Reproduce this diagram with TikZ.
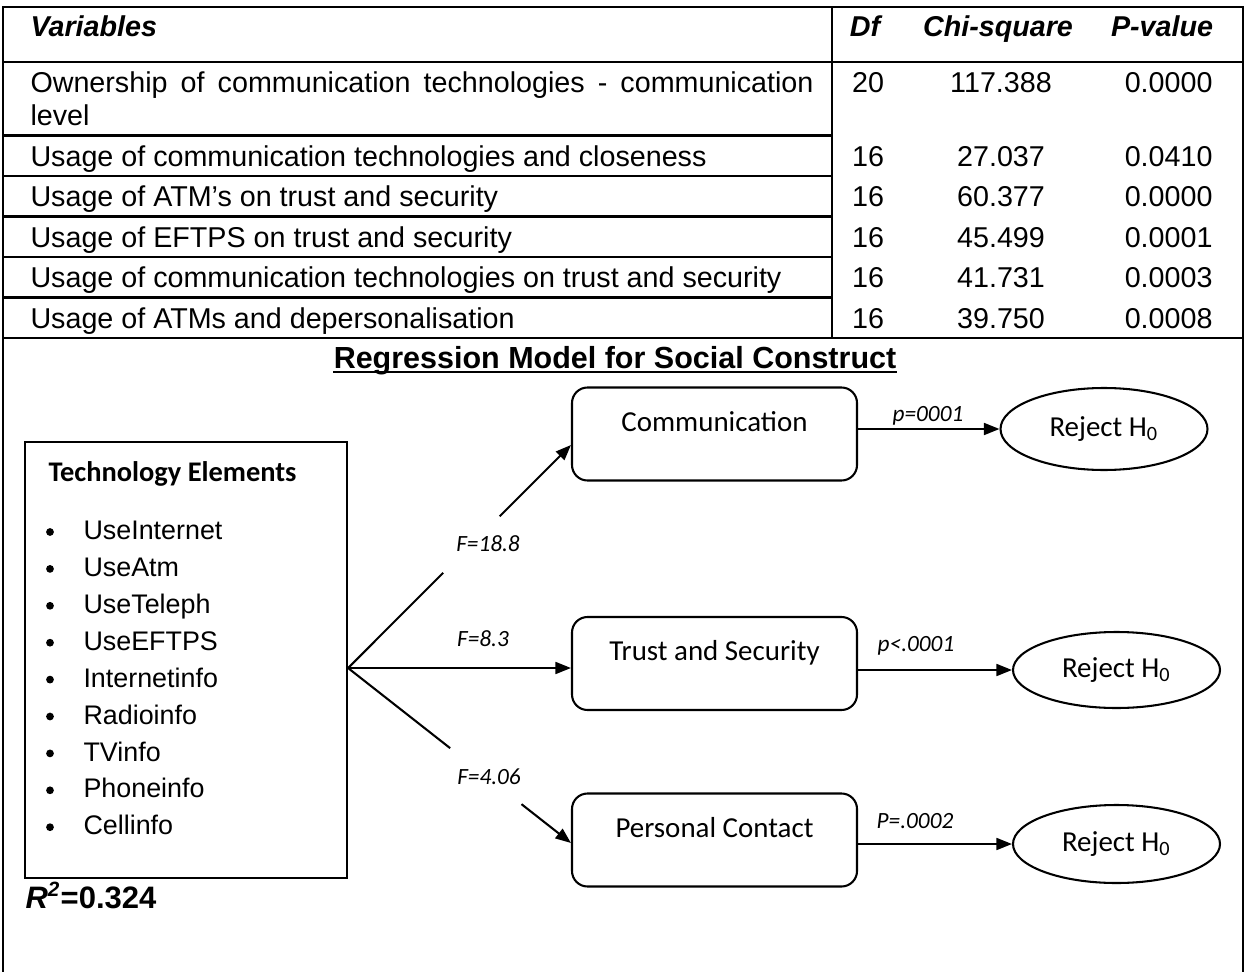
\documentclass[tikz,border=0pt]{standalone}
\usepackage{fontspec}
\setmainfont{Liberation Sans}
\newfontfamily\calib{Carlito}
\usetikzlibrary{arrows.meta,shapes.geometric,calc}
\def\pxu{0.387pt}
\begin{document}
\begin{tikzpicture}[x=0.387pt,y=-0.387pt,
  txt/.style={inner sep=0pt,text depth=0pt},
  tabtxt/.style={txt,text height=8pt,font=\fontsize{11.1}{13}\selectfont},
  hdr/.style={txt,text height=8pt,font=\fontsize{11.1}{13}\selectfont\bfseries\itshape},
  tabline/.style={line width=1pt},
  rbox/.style={draw,line width=0.8pt,rounded corners=6pt,minimum width={285*\pxu},minimum height={93*\pxu},inner sep=0pt,text height=8pt,text depth=10.1pt,font=\calib\fontsize{11.2}{13}\selectfont},
  ell/.style={draw,ellipse,line width=0.8pt,minimum width={207*\pxu},inner sep=0pt,font=\calib\fontsize{11.2}{13}\selectfont},
  lab/.style={txt,text height=6.5pt,font=\calib\itshape\fontsize{9}{11}\selectfont},
  arr/.style={line width=0.8pt,-{Triangle[length=6pt,width=4.6pt]}},
  conn/.style={line width=0.8pt},
  itm/.style={txt,anchor=west,text height=7.5pt,font=\fontsize{10.4}{12}\selectfont},
]
\useasboundingbox (0,0) rectangle (1246,972);
% table frame
\draw[tabline] (3,972) -- (3,7) -- (1243,7) -- (1243,972);
\draw[tabline] (3,62) -- (1243,62);
\draw[tabline] (3,338) -- (1243,338);
\draw[tabline] (832,7) -- (832,338);
\foreach \yy in {135.5,176,216.5,257,297.5} \draw[tabline] (3,\yy) -- (832,\yy);
% header
\node[hdr,anchor=west] (hv) at (30,26) {Variables};
\node[hdr] (hd) at (865,26) {Df};
\node[hdr] (hc) at (998,26) {Chi-square};
\node[hdr] (hp) at (1162,26) {P-value};
% row 1
\node[tabtxt,anchor=west] (r0a) at (30,82) {\makebox[303pt][s]{Ownership of communication technologies - communication}};
\node[tabtxt,anchor=west] (r0b) at (30,115) {level};
\node[tabtxt] (df0) at (868,82) {20};
\node[tabtxt] (cs0) at (1001,82) {117.388};
\node[tabtxt,anchor=east] (pv0) at (1213,82) {0.0000};
% other rows
\foreach \yy/\tt/\dd/\cc/\pp [count=\i] in {156/Usage of communication technologies and closeness/16/27.037/0.0410,196/Usage of ATM’s on trust and security/16/60.377/0.0000,237/Usage of EFTPS on trust and security/16/45.499/0.0001,277/Usage of communication technologies on trust and security/16/41.731/0.0003,318/Usage of ATMs and depersonalisation/16/39.750/0.0008}{
  \node[tabtxt,anchor=west] (r\i) at (30,\yy) {\tt};
  \node[tabtxt] (df\i) at (868,\yy) {\dd};
  \node[tabtxt] (cs\i) at (1001,\yy) {\cc};
  \node[tabtxt,anchor=east] (pv\i) at (1213,\yy) {\pp};
}
% title
\node[txt,text height=8.6pt,font=\fontsize{11.8}{14}\selectfont\bfseries] (title) at (615,357) {Regression Model for Social Construct};
\draw[line width=0.9pt] ([yshift=-1.3pt]title.south west) -- ([yshift=-1.3pt]title.south east);
% technology box
\node[draw,line width=0.8pt,minimum width={322*\pxu},minimum height={436*\pxu},inner sep=0pt] (tech) at (186,660) {};
\node[txt,anchor=west,text height=7.1pt,font=\calib\bfseries\fontsize{11}{13}\selectfont] (tt) at (48,472) {Technology Elements};
\foreach \t [count=\i from 0] in {UseInternet,UseAtm,UseTeleph,UseEFTPS,Internetinfo,Radioinfo,TVinfo,Phoneinfo,Cellinfo}{
  \node[circle,fill,inner sep=0pt,minimum size=3pt] (bu\i) at (50,{532+36.9*\i}) {};
  \node[itm] (it\i) at (83,{530+36.9*\i}) {\t};
}
\node[txt,anchor=west,text height=8.6pt,font=\fontsize{12}{14}\selectfont\bfseries] (r2) at (25,897) {\textit{R}\textsuperscript{\textit{2}}=0.324};
% construct boxes
\node[rbox] (comm) at (714.5,434) {Communication};
\node[rbox] (trust) at (714.5,663.5) {Trust and Security};
\node[rbox] (pers) at (714.5,840) {Personal Contact};
% ellipses
\node[ell,minimum height={82*\pxu}] (e1) at (1104,429) {Reject H\textsubscript{0}};
\node[ell,minimum height={76*\pxu}] (e2) at (1116.5,670) {Reject H\textsubscript{0}};
\node[ell,minimum height={78*\pxu}] (e3) at (1116.5,844) {Reject H\textsubscript{0}};
% right arrows
\draw[arr] (e1.west -| comm.east) -- (e1.west);
\draw[arr] (e2.west -| trust.east) -- (e2.west);
\draw[arr] (e3.west -| pers.east) -- (e3.west);
\node[lab] (l1) at (928,413) {p=0001};
\node[lab] (l2) at (916,643) {p<.0001};
\node[lab] (l3) at (915,820) {P=.0002};
% fan
\coordinate (fan) at (tech.east |- 0,668);
\coordinate (ct) at (comm.west |- 0,445);
\coordinate (cp) at (pers.west |- 0,843);
\draw[conn] (fan) -- ($(fan)!0.427!(ct)$);
\draw[arr] ($(fan)!0.68!(ct)$) -- (ct);
\draw[arr] (fan) -- (trust.west |- fan);
\draw[conn] (fan) -- ($(fan)!0.458!(cp)$);
\draw[arr] ($(fan)!0.778!(cp)$) -- (cp);
\node[lab] (f1) at (488,543) {F=18.8};
\node[lab] (f2) at (483,638) {F=8.3};
\node[lab] (f3) at (489,776) {F=4.06};
\end{tikzpicture}
\end{document}
